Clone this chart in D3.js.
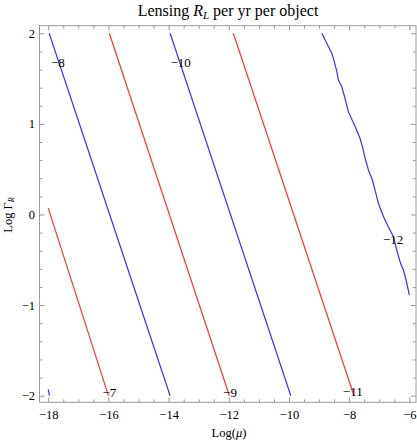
<!DOCTYPE html>
<html>
<head>
<meta charset="utf-8">
<script src="https://cdn.jsdelivr.net/npm/d3@7"></script>
<style>
  body { margin: 0; background: #fff; }
  svg text { font-family: "Liberation Serif", "DejaVu Serif", serif; fill: #000; }
</style>
</head>
<body>
<div id="chart"></div>
<script>
// contour levels, log10 R_L
const contourLevels = [-6, -7, -8, -9, -10, -11, -12];

// each contour as [log mu, log Gamma_R] points
const contourM6 = [[-18.0, -1.93], [-17.96, -2.0]];
const contourM7 = [[-18.0, 0.07], [-16.0, -2.0]];
const contourM8 = [[-17.97, 2.0], [-13.95, -2.0]];
const contourM9 = [[-15.97, 2.0], [-11.98, -2.0]];
const contourM10 = [[-13.95, 2.0], [-9.94, -2.0]];
const contourM11 = [[-11.85, 2.0], [-7.84, -2.0]];
const contourM12 = [
  [-8.91, 2.0], [-8.745, 1.89], [-8.58, 1.78], [-8.525, 1.724], [-8.41, 1.576],
  [-8.36, 1.485], [-8.245, 1.41], [-8.14, 1.283], [-8.03, 1.135], [-7.80, 0.969],
  [-7.64, 0.841], [-7.56, 0.748], [-7.47, 0.620], [-7.36, 0.491], [-7.23, 0.381],
  [-7.14, 0.270], [-7.03, 0.124], [-6.86, -0.024], [-6.70, -0.135], [-6.53, -0.245],
  [-6.42, -0.392], [-6.31, -0.521], [-6.20, -0.613], [-6.11, -0.723], [-6.0, -0.89]
];
const contours = [contourM6, contourM7, contourM8, contourM9, contourM10, contourM11, contourM12];

// contour labels
const labelLevels = [-7, -8, -9, -10, -11, -12];
const labelMu = [-15.97, -17.68, -11.96, -13.6, -7.88, -6.54];
const labelGamma = [-1.96, 1.68, -1.96, 1.68, -1.95, -0.27];

// ticks
const xMajorTicks = [-18, -16, -14, -12, -10, -8, -6];
const yMajorTicks = [-2, -1, 0, 1, 2];
const xMinorStep = 0.5;
const yMinorStep = 0.2;

const width = 417, height = 442;
const frame = { left: 39.5, right: 416, top: 25.7, bottom: 402.3 };

const svg = d3.select('#chart').append('svg')
    .attr('width', width)
    .attr('height', height);

const x = d3.scaleLinear()
    .domain([-18.29, -5.78])
    .range([frame.left, frame.right]);
const y = d3.scaleLinear()
    .domain([-2.073, 2.084])
    .range([frame.bottom, frame.top]);

const minus = d => (d < 0 ? '\u2212' + Math.abs(d) : '' + d);

function minorTicks(domain, step) {
    let lo = Math.min(domain[0], domain[1]), hi = Math.max(domain[0], domain[1]);
    let out = [];
    for (let v = Math.ceil(lo / step) * step; v <= hi + 1e-9; v += step) {
        out.push(+v.toFixed(4));
    }
    return out;
}
const xMinor = minorTicks(x.domain(), xMinorStep).filter(v => !xMajorTicks.includes(v));
const yMinor = minorTicks(y.domain(), yMinorStep).filter(v => !yMajorTicks.includes(v));

const frameColor = '#9a9a9a';

function styleAxis(g) {
    g.select('.domain').remove();
    g.selectAll('.tick line').attr('stroke', frameColor).attr('stroke-width', 1);
    g.selectAll('.tick text').attr('font-size', '12.5px').attr('fill', '#000');
}

// bottom
svg.append('g')
    .attr('transform', 'translate(0,' + frame.bottom + ')')
    .call(d3.axisBottom(x).tickValues(xMajorTicks).tickSize(-5).tickPadding(8).tickFormat(minus))
    .call(styleAxis);
svg.append('g')
    .attr('transform', 'translate(0,' + frame.bottom + ')')
    .call(d3.axisBottom(x).tickValues(xMinor).tickSize(-3).tickFormat(''))
    .call(styleAxis);
// top
svg.append('g')
    .attr('transform', 'translate(0,' + frame.top + ')')
    .call(d3.axisTop(x).tickValues(xMajorTicks).tickSize(-5).tickFormat(''))
    .call(styleAxis);
svg.append('g')
    .attr('transform', 'translate(0,' + frame.top + ')')
    .call(d3.axisTop(x).tickValues(xMinor).tickSize(-3).tickFormat(''))
    .call(styleAxis);
// left
svg.append('g')
    .attr('transform', 'translate(' + frame.left + ',0)')
    .call(d3.axisLeft(y).tickValues(yMajorTicks).tickSize(-5).tickPadding(4.5).tickFormat(minus))
    .call(styleAxis);
svg.append('g')
    .attr('transform', 'translate(' + frame.left + ',0)')
    .call(d3.axisLeft(y).tickValues(yMinor).tickSize(-3).tickFormat(''))
    .call(styleAxis);
// right
svg.append('g')
    .attr('transform', 'translate(' + frame.right + ',0)')
    .call(d3.axisRight(y).tickValues(yMajorTicks).tickSize(-5).tickFormat(''))
    .call(styleAxis);
svg.append('g')
    .attr('transform', 'translate(' + frame.right + ',0)')
    .call(d3.axisRight(y).tickValues(yMinor).tickSize(-3).tickFormat(''))
    .call(styleAxis);

svg.append('rect')
    .attr('x', frame.left)
    .attr('y', frame.top)
    .attr('width', frame.right - frame.left)
    .attr('height', frame.bottom - frame.top)
    .attr('fill', 'none')
    .attr('stroke', frameColor)
    .attr('stroke-width', 1);

// contour lines
const line = d3.line()
    .x(d => x(d[0]))
    .y(d => y(d[1]))
    .curve(d3.curveLinear);

const colorOf = lev => (Math.abs(lev) % 2 === 0 ? '#3434ff' : '#ff3434');

svg.append('g').selectAll('path')
    .data(contours)
    .enter().append('path')
    .attr('d', line)
    .attr('fill', 'none')
    .attr('stroke', (d, i) => colorOf(contourLevels[i]))
    .attr('stroke-width', 1.2);

// contour labels
svg.append('g').selectAll('text')
    .data(labelLevels)
    .enter().append('text')
    .attr('x', (d, i) => x(labelMu[i]))
    .attr('y', (d, i) => y(labelGamma[i]))
    .attr('dy', '0.35em')
    .attr('text-anchor', 'middle')
    .attr('font-size', '13px')
    .text(d => minus(d));

// title
const title = svg.append('text')
    .attr('x', 228)
    .attr('y', 16)
    .attr('text-anchor', 'middle')
    .attr('font-size', '16px');
title.append('tspan').text('Lensing ');
title.append('tspan').attr('font-style', 'italic').text('R');
title.append('tspan').attr('font-style', 'italic').attr('font-size', '11px').attr('dy', 3).text('L');
title.append('tspan').attr('dy', -3).text(' per yr per object');

// x label
const xl = svg.append('text')
    .attr('x', 229)
    .attr('y', 437)
    .attr('text-anchor', 'middle')
    .attr('font-size', '12.5px');
xl.append('tspan').text('Log(');
xl.append('tspan').attr('font-style', 'italic').text('\u03bc');
xl.append('tspan').text(')');

// y label
const yl = svg.append('text')
    .attr('transform', 'translate(11.5,215) rotate(-90)')
    .attr('text-anchor', 'middle')
    .attr('font-size', '12.5px');
yl.append('tspan').text('Log \u0393');
yl.append('tspan').attr('font-style', 'italic').attr('font-size', '8px').attr('dy', 2).text('R');
</script>
</body>
</html>
